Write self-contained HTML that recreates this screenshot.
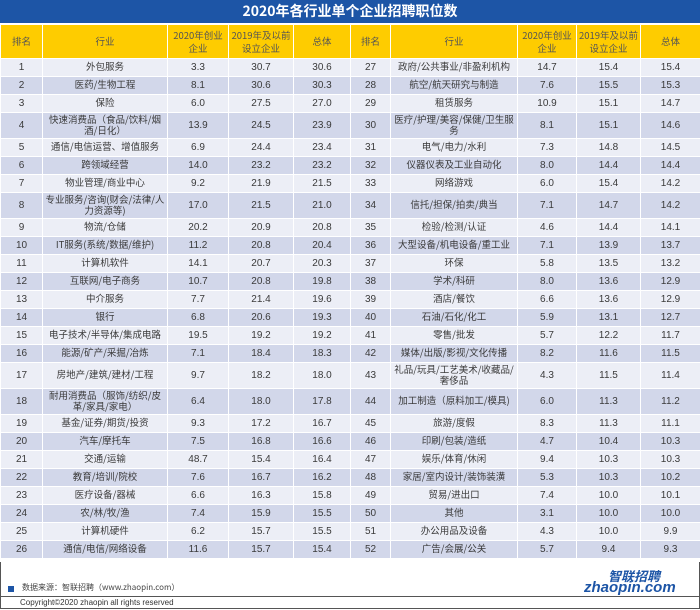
<!DOCTYPE html>
<html><head><meta charset="utf-8">
<style>
body{margin:0;width:700px;height:610px;background:#fff;font-family:"Liberation Sans","Noto Sans CJK SC",sans-serif;overflow:hidden;position:relative}
#title{position:absolute;left:0;top:0;width:700px;height:23px;background:#1d55a6;color:#fff;font-weight:bold;font-size:14px;text-align:center;line-height:23px;font-family:"Noto Sans CJK SC",sans-serif}
table{position:absolute;left:0;top:24px;width:700px;border-collapse:collapse;table-layout:fixed;font-size:10px;color:#3a3a3a}
td,th{border:1.5px solid #fff;text-align:center;padding:0;line-height:12px;font-weight:normal;overflow:hidden;vertical-align:middle}
th{background:#fecc00;height:33px;color:#555;font-size:9.5px;white-space:nowrap;font-family:"Noto Sans CJK SC",sans-serif;line-height:13px}
tr.odd td{background:#eceef6}
tr.even td{background:#d2d7ea}
.ind{font-family:"Noto Sans CJK SC",sans-serif;font-size:9.5px;line-height:11px;padding:0 2px 2px 2px}
#foot{position:absolute;left:0;top:562px;width:698px;height:46px;border:1px solid #555;border-top:none}
#sq{position:absolute;left:8px;top:586px;width:6px;height:6px;background:#1d55a6}
#src{position:absolute;left:22px;top:582px;font-size:8px;color:#444;font-family:"Noto Sans CJK SC",sans-serif}
#line{position:absolute;left:0;top:596px;width:700px;height:1px;background:#555}
#copy{position:absolute;left:20px;top:598px;font-size:8px;color:#333}
#logo1{position:absolute;left:608px;top:566px;font-size:13px;font-style:italic;font-weight:bold;color:#1d55a6;font-family:"Noto Sans CJK SC",sans-serif}
#logo2{position:absolute;left:584px;top:579px;font-size:15px;font-style:italic;font-weight:bold;color:#1d55a6}
</style></head><body>
<div id="title">2020年各行业单个企业招聘职位数</div>
<table id="tbl">
<colgroup><col style="width:42px"><col style="width:125px"><col style="width:61px"><col style="width:65px"><col style="width:57px"><col style="width:40px"><col style="width:127px"><col style="width:59px"><col style="width:64px"><col style="width:60px"></colgroup>
<thead><tr>
<th>排名</th><th>行业</th><th>2020年创业<br>企业</th><th>2019年及以前<br>设立企业</th><th>总体</th>
<th>排名</th><th>行业</th><th>2020年创业<br>企业</th><th>2019年及以前<br>设立企业</th><th>总体</th></tr></thead>
<tbody id="tb"></tbody></table>
<div id="foot"></div>
<div id="sq"></div>
<div id="src">数据来源：智联招聘（www.zhaopin.com）</div>
<div id="line"></div>
<div id="copy">Copyright©2020 zhaopin all rights reserved</div>
<div id="logo1">智联招聘</div>
<div id="logo2">zhaopin.com</div>
<script>
const industries=["外包服务","医药/生物工程","保险","快速消费品（食品/饮料/烟酒/日化）","通信/电信运营、增值服务","跨领域经营","物业管理/商业中心","专业服务/咨询(财会/法律/人力资源等)","物流/仓储","IT服务(系统/数据/维护)","计算机软件","互联网/电子商务","中介服务","银行","电子技术/半导体/集成电路","能源/矿产/采掘/冶炼","房地产/建筑/建材/工程","耐用消费品（服饰/纺织/皮革/家具/家电）","基金/证券/期货/投资","汽车/摩托车","交通/运输","教育/培训/院校","医疗设备/器械","农/林/牧/渔","计算机硬件","通信/电信/网络设备",
"政府/公共事业/非盈利机构","航空/航天研究与制造","租赁服务","医疗/护理/美容/保健/卫生服务","电气/电力/水利","仪器仪表及工业自动化","网络游戏","信托/担保/拍卖/典当","检验/检测/认证","大型设备/机电设备/重工业","环保","学术/科研","酒店/餐饮","石油/石化/化工","零售/批发","媒体/出版/影视/文化传播","礼品/玩具/工艺美术/收藏品/奢侈品","加工制造（原料加工/模具)","旅游/度假","印刷/包装/造纸","娱乐/体育/休闲","家居/室内设计/装饰装潢","贸易/进出口","其他","办公用品及设备","广告/会展/公关"];
const startup2020=[3.3,8.1,6.0,13.9,6.9,14.0,9.2,17.0,20.2,11.2,14.1,10.7,7.7,6.8,19.5,7.1,9.7,6.4,9.3,7.5,48.7,7.6,6.6,7.4,6.2,11.6,
14.7,7.6,10.9,8.1,7.3,8.0,6.0,7.1,4.6,7.1,5.8,8.0,6.6,5.9,5.7,8.2,4.3,6.0,8.3,4.7,9.4,5.3,7.4,3.1,4.3,5.7];
const before2019=[30.7,30.6,27.5,24.5,24.4,23.2,21.9,21.5,20.9,20.8,20.7,20.8,21.4,20.6,19.2,18.4,18.2,18.0,17.2,16.8,15.4,16.7,16.3,15.9,15.7,15.7,
15.4,15.5,15.1,15.1,14.8,14.4,15.4,14.7,14.4,13.9,13.5,13.6,13.6,13.1,12.2,11.6,11.5,11.3,11.3,10.4,10.3,10.3,10.0,10.0,10.0,9.4];
const overall=[30.6,30.3,27.0,23.9,23.4,23.2,21.5,21.0,20.8,20.4,20.3,19.8,19.6,19.3,19.2,18.3,18.0,17.8,16.7,16.6,16.4,16.2,15.8,15.5,15.5,15.4,
15.4,15.3,14.7,14.6,14.5,14.4,14.2,14.2,14.1,13.7,13.2,12.9,12.9,12.7,11.7,11.5,11.4,11.2,11.1,10.3,10.3,10.2,10.1,10.0,9.9,9.3];
const tallRows=[3,7,16,17];
const tb=document.getElementById('tb');
for(let i=0;i<26;i++){
  const tr=document.createElement('tr');
  
  
  tr.className=i%2?'even':'odd';
  tr.style.height=(tallRows.includes(i)?26:18)+'px';
  [i,i+26].forEach(k=>{
    const vals=[k+1,industries[k],startup2020[k].toFixed(1),before2019[k].toFixed(1),overall[k].toFixed(1)];
    vals.forEach((v,j)=>{
      const td=document.createElement('td');
      
      
      if(j===1)td.className='ind';
      td.textContent=v;
      tr.appendChild(td);
    });
  });
  tb.appendChild(tr);
}
</script>
</body></html>
